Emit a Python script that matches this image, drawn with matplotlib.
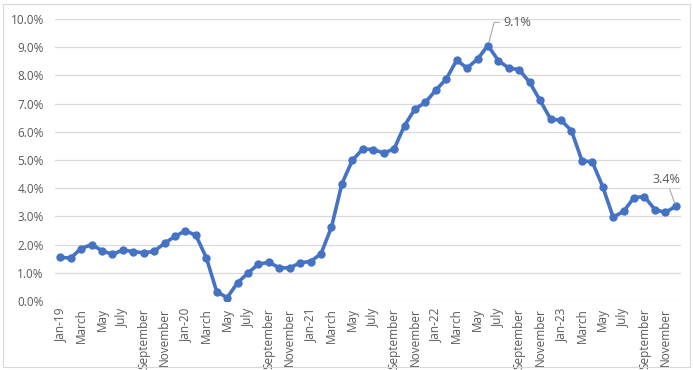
import numpy as np
import matplotlib.pyplot as plt
from matplotlib.patches import Rectangle

plt.rcParams['font.family'] = ['Open Sans', 'DejaVu Sans']

# Monthly CPI inflation, year over year (%), Jan 2019 - Dec 2023
cpi_2019 = [1.55, 1.52, 1.86, 2.00, 1.79, 1.65, 1.81, 1.75, 1.71, 1.76, 2.05, 2.29]
cpi_2020 = [2.49, 2.33, 1.54, 0.33, 0.12, 0.65, 0.99, 1.31, 1.37, 1.18, 1.17, 1.36]
cpi_2021 = [1.40, 1.68, 2.62, 4.16, 4.99, 5.39, 5.37, 5.25, 5.39, 6.22, 6.81, 7.04]
cpi_2022 = [7.48, 7.87, 8.54, 8.26, 8.58, 9.06, 8.52, 8.26, 8.20, 7.75, 7.11, 6.45]
cpi_2023 = [6.41, 6.04, 4.98, 4.93, 4.05, 2.97, 3.18, 3.67, 3.70, 3.24, 3.14, 3.36]

cpi = np.array(cpi_2019 + cpi_2020 + cpi_2021 + cpi_2022 + cpi_2023)
months = ['January', 'February', 'March', 'April', 'May', 'June', 'July',
          'August', 'September', 'October', 'November', 'December']
years = ['19', '20', '21', '22', '23']
labels = []
for yr in years:
    for m in months:
        labels.append('Jan-' + yr if m == 'January' else m)

x = np.arange(len(cpi))
blue = '#4472C4'
grey = '#595959'

fig = plt.figure(figsize=(6.93, 3.70), dpi=100)
fig.patches.append(Rectangle((0.005, 0.008), 0.990, 0.982, transform=fig.transFigure,
                             fill=False, edgecolor='#D9D9D9', linewidth=0.8))
ax = fig.add_axes([55 / 693, 1 - 301 / 370, 626 / 693, 282 / 370])

ax.plot(x, cpi, color=blue, linewidth=2.6, marker='o', markersize=5,
        solid_capstyle='round', zorder=3)

ax.set_xlim(-0.5, len(cpi) - 0.5)
ax.set_ylim(0, 10)
ax.set_yticks(np.arange(0, 10.5, 1))
ax.set_yticklabels([f'{v:.1f}%' for v in np.arange(0, 10.5, 1)])
ax.set_xticks(x[::2])
ax.set_xticklabels(labels[::2], rotation=90)
ax.tick_params(axis='both', length=0, colors=grey, labelsize=8.5)
ax.tick_params(axis='y', pad=8)
ax.tick_params(axis='x', pad=5)
ax.grid(True, axis='y', color='#D9D9D9', linewidth=0.9)
ax.set_axisbelow(True)
for s in ax.spines.values():
    s.set_visible(False)

# Callouts for the peak and the latest reading
i_peak = int(np.argmax(cpi))
ax.annotate(f'{cpi[i_peak]:.1f}%', xy=(x[i_peak], cpi[i_peak]),
            xytext=(x[i_peak] + 1.5, 9.88), color=grey, fontsize=9,
            ha='left', va='center',
            arrowprops=dict(arrowstyle='-', color='#A6A6A6', linewidth=0.8,
                            connectionstyle='angle,angleA=0,angleB=75,rad=0',
                            shrinkA=1, shrinkB=3))
i_last = len(cpi) - 1
ax.annotate(f'{cpi[i_last]:.1f}%', xy=(x[i_last], cpi[i_last]),
            xytext=(x[i_last] - 0.9, 4.3), color=grey, fontsize=9, ha='center',
            va='center',
            arrowprops=dict(arrowstyle='-', color='#A6A6A6', linewidth=0.8,
                            shrinkA=0, shrinkB=2))

fig.savefig('out.png', dpi=100)
